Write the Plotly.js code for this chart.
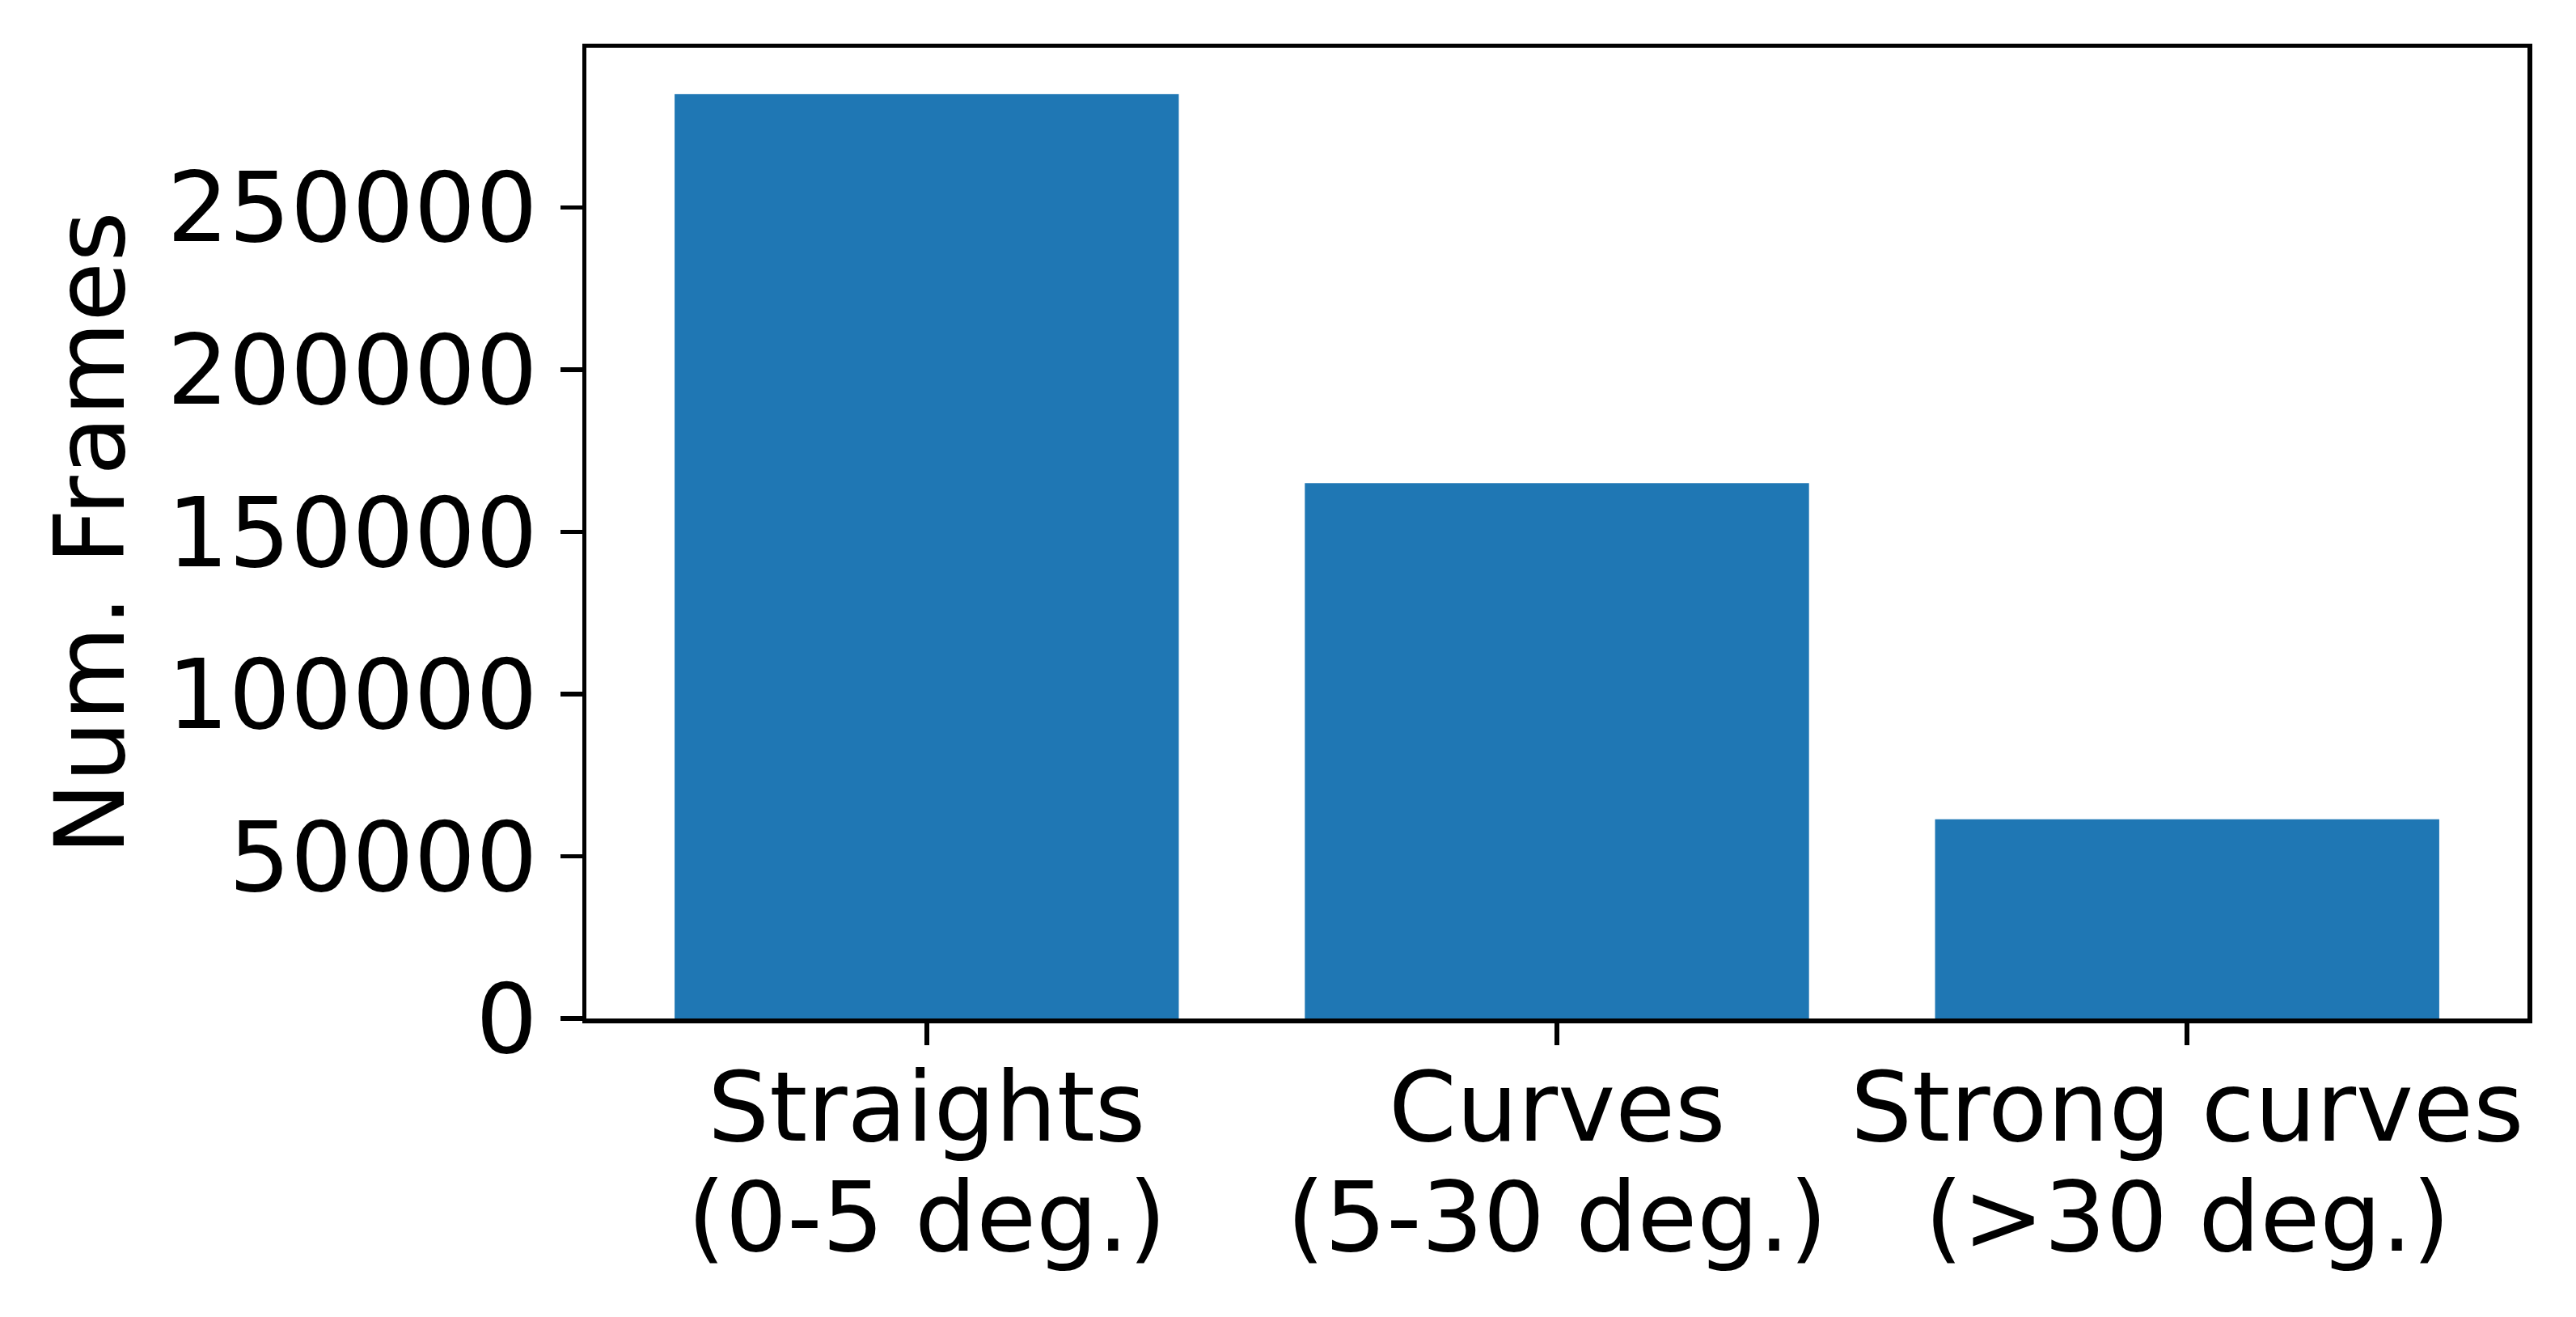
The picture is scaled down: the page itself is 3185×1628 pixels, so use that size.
<!DOCTYPE html>
<html>
<head>
<meta charset="utf-8">
<script src="https://cdn.plot.ly/plotly-3.0.1.min.js"></script>
<style>html,body{margin:0;padding:0;background:#fff;}#chart{width:3185px;height:1628px;}</style>
</head>
<body>
<div id="chart"></div>
<script>
const categoryNames = ["Straights", "Curves", "Strong curves"];
const categoryRanges = ["(0-5 deg.)", "(5-30 deg.)", "(>30 deg.)"];
const frameCounts = [285000, 165000, 61400];
const yTickVals = [0, 50000, 100000, 150000, 200000, 250000];
const yTickText = ["0", "50000", "100000", "150000", "200000", "250000"];

const xIdx = categoryNames.map((_, i) => i);
const font = {family: "DejaVu Sans", size: 120, color: "#000"};

const annotations = [];
xIdx.forEach(i => {
  annotations.push({x: i, xref: "x", y: 0, yref: "paper", text: categoryNames[i],
    showarrow: false, xanchor: "center", yanchor: "top", yshift: -38, font: font});
  annotations.push({x: i, xref: "x", y: 0, yref: "paper", text: categoryRanges[i],
    showarrow: false, xanchor: "center", yanchor: "top", yshift: -174, font: font});
});

Plotly.newPlot("chart", [{
  type: "bar",
  x: xIdx,
  y: frameCounts,
  width: 0.8,
  marker: {color: "#1f77b4", line: {width: 0}},
  hoverinfo: "none"
}], {
  width: 3185, height: 1628,
  paper_bgcolor: "#fff", plot_bgcolor: "#fff",
  margin: {l: 725, r: 60, t: 59, b: 369, pad: 0},
  showlegend: false,
  font: font,
  annotations: annotations,
  xaxis: {
    range: [-0.54, 2.54],
    tickmode: "array", tickvals: xIdx, showticklabels: false,
    ticks: "outside", ticklen: 27, tickwidth: 5.5, tickcolor: "#000",
    showline: true, linecolor: "#000", linewidth: 5.5, mirror: true,
    showgrid: false, zeroline: false
  },
  yaxis: {
    range: [0, 299250],
    tickmode: "array", tickvals: yTickVals, ticktext: yTickText,
    ticks: "outside", ticklen: 27, tickwidth: 5.5, tickcolor: "#000",
    showline: true, linecolor: "#000", linewidth: 5.5, mirror: true,
    showgrid: false, zeroline: false,
    tickfont: font, ticklabelstandoff: 4,
    title: {text: "Num. Frames", font: font, standoff: 14}
  }
}, {staticPlot: true, displayModeBar: false});
</script>
</body>
</html>
